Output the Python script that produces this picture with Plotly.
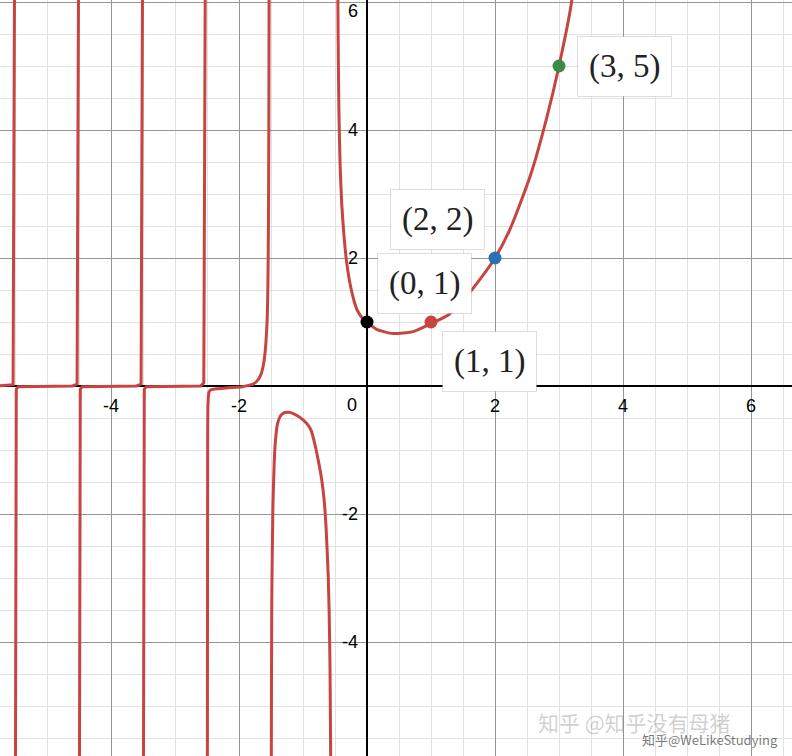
import plotly.graph_objects as go

# ---- data ----
# steep branches on the left (drawn as straight segments)
left_x = [
    [-5.80, -5.53, -5.505],
    [-5.495, -5.48, -5.45, -4.60, -4.53, -4.505],
    [-4.495, -4.48, -4.45, -3.60, -3.53, -3.505],
    [-3.495, -3.48, -3.45, -2.60, -2.55, -2.525],
]
left_y = [
    [0.0, 0.02, 7.0],
    [-7.0, -0.05, -0.01, 0.0, 0.03, 7.0],
    [-7.0, -0.05, -0.01, 0.0, 0.03, 7.0],
    [-7.0, -0.05, -0.01, 0.0, 0.05, 7.0],
]
# smooth branches
smooth_x = [
    [-2.495, -2.49, -2.485, -2.47, -2.44, -2.40, -2.20, -1.95, -1.85, -1.78, -1.70, -1.65, -1.615,
     -1.59, -1.572, -1.558, -1.548, -1.54, -1.534, -1.53, -1.528],
    [-1.497, -1.495, -1.488, -1.47, -1.45, -1.43, -1.40, -1.36, -1.30, -1.23, -1.15, -1.08, -1.00,
     -0.93, -0.87, -0.81, -0.76, -0.71, -0.67, -0.64, -0.605, -0.59, -0.578, -0.568, -0.566],
    [-0.457, -0.455, -0.447, -0.437, -0.42, -0.395, -0.36, -0.32, -0.28, -0.24, -0.20, -0.15, -0.08,
     0.0, 0.15, 0.41, 0.72, 1.01, 1.27, 1.45, 1.66, 2.0, 2.23, 2.55, 2.80, 3.0, 3.2, 3.23],
]
smooth_y = [
    [-7.0, -1.0, -0.3, -0.1, -0.06, -0.05, -0.03, -0.01, 0.01, 0.03, 0.1, 0.2, 0.35,
     0.55, 0.8, 1.1, 1.6, 2.5, 4.0, 6.03, 7.0],
    [-7.0, -5.8, -3.34, -1.9, -1.2, -0.85, -0.6, -0.48, -0.42, -0.41, -0.43, -0.47, -0.53,
     -0.6, -0.7, -0.93, -1.17, -1.45, -1.78, -2.2, -3.0, -3.6, -4.4, -5.8, -7.0],
    [7.0, 6.03, 5.0, 4.2, 3.45, 2.85, 2.35, 1.95, 1.68, 1.48, 1.32, 1.18, 1.07,
     1.0, 0.885, 0.82, 0.85, 0.98, 1.11, 1.28, 1.53, 2.0, 2.44, 3.28, 4.16, 5.0, 6.03, 6.5],
]

# labelled points
pt_x = [0, 1, 2, 3]
pt_y = [1, 1, 2, 5]
pt_labels = ["(0, 1)", "(1, 1)", "(2, 2)", "(3, 5)"]
pt_colors = ["#000000", "#c74440", "#2d70b3", "#388c46"]

x_ticks = [-4, -2, 0, 2, 4, 6]
y_ticks = [-4, -2, 2, 4, 6]

CURVE = "#c74440"

# ---- build figure ----
fig = go.Figure()
for bx, by in zip(left_x, left_y):
    fig.add_trace(go.Scatter(x=bx, y=by, mode="lines",
                             line=dict(color=CURVE, width=3), hoverinfo="skip"))
for bx, by in zip(smooth_x, smooth_y):
    fig.add_trace(go.Scatter(x=bx, y=by, mode="lines",
                             line=dict(color=CURVE, width=3, shape="spline", smoothing=0.6),
                             hoverinfo="skip"))
fig.add_trace(go.Scatter(x=pt_x, y=pt_y, mode="markers",
                         marker=dict(color=pt_colors, size=13, line=dict(width=0)),
                         hoverinfo="skip"))

# point labels (offsets in pixels)
label_shift = [(57, 39), (58, -39), (-58, 39), (65, 0)]
for (px, py, t, (dx, dy)) in zip(pt_x, pt_y, pt_labels, label_shift):
    fig.add_annotation(x=px, y=py, xref="x", yref="y", text=t, showarrow=False,
                       xshift=dx, yshift=dy,
                       font=dict(family="Liberation Serif", size=33, color="#222222"),
                       bgcolor="white", bordercolor="rgba(0,0,0,0.13)", borderwidth=1,
                       borderpad=11)

tick_font = dict(family="Liberation Sans, Arial", size=18, color="#000000")
for t in x_ticks:
    if t == 0:
        fig.add_annotation(x=t, y=0, text="0", showarrow=False, xanchor="right",
                           yanchor="middle", xshift=-8, yshift=-19, font=tick_font)
    else:
        fig.add_annotation(x=t, y=0, text=str(t), showarrow=False, xanchor="center",
                           yanchor="middle", yshift=-20, font=tick_font)
for t in y_ticks:
    fig.add_annotation(x=0, y=t, text=str(t), showarrow=False, xanchor="right",
                       yanchor="top" if t == 6 else "middle", xshift=-7,
                       yshift=3 if t == 6 else 0, font=tick_font)

# watermark
fig.add_annotation(x=0.925, y=0.045, xref="paper", yref="paper", text="知乎 @知乎没有母猪",
                   showarrow=False, xanchor="right", yanchor="middle",
                   font=dict(family="Noto Sans CJK SC", size=21, color="rgba(120,120,120,0.35)"))
fig.add_annotation(x=0.985, y=0.022, xref="paper", yref="paper", text="知乎@WeLikeStudying",
                   showarrow=False, xanchor="right", yanchor="middle",
                   font=dict(family="Noto Sans CJK SC", size=13, color="rgba(60,60,60,0.7)"))

axis_common = dict(
    dtick=2, tick0=0, showgrid=True, gridcolor="#959595", gridwidth=1,
    zeroline=True, zerolinecolor="#000000", zerolinewidth=2,
    showticklabels=False, ticks="", showline=False, fixedrange=True,
    minor=dict(dtick=0.5, tick0=0, showgrid=True, gridcolor="#e2e2e2", gridwidth=1),
)
fig.update_xaxes(range=[-367/64, 425/64], **axis_common)
fig.update_yaxes(range=[-370/64, 386/64], **axis_common)

fig.update_layout(width=792, height=756, margin=dict(l=0, r=0, t=0, b=0),
                  plot_bgcolor="white", paper_bgcolor="white", showlegend=False)

fig.write_html("out.html", config={"displayModeBar": False},
               post_script="document.body.style.margin='0';document.body.style.padding='0';document.body.style.overflow='hidden';")
